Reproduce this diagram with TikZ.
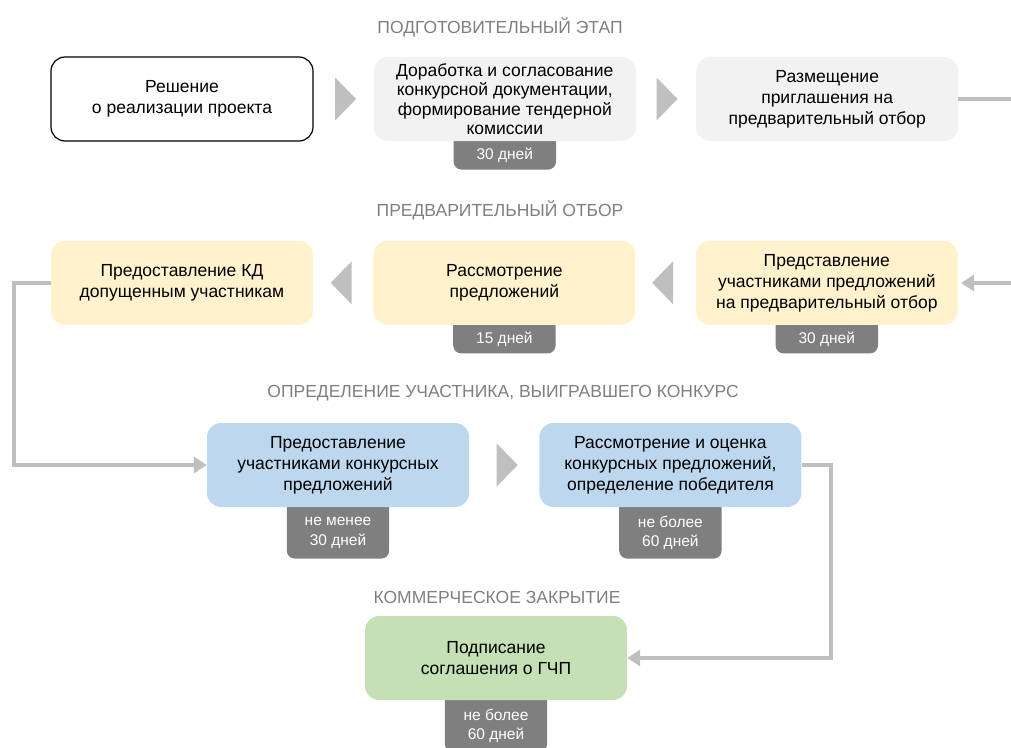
\documentclass[tikz,border=0pt]{standalone}
\usepackage{fontspec}
\setmainfont{Liberation Sans}
\usetikzlibrary{positioning,arrows.meta,calc,backgrounds}

\definecolor{stepgray}{HTML}{F2F2F2}
\definecolor{stepyellow}{HTML}{FFF2CC}
\definecolor{stepblue}{HTML}{BDD7EE}
\definecolor{stepgreen}{HTML}{C5E0B4}
\definecolor{tabgray}{HTML}{7F7F7F}
\definecolor{linegray}{HTML}{BFBFBF}

\tikzset{
  stage/.style={rectangle, rounded corners=14pt, minimum width=262pt, minimum height=84pt,
    align=center, inner xsep=4pt, inner ysep=0pt, font=\fontsize{17.5pt}{21pt}\selectfont},
  phase/.style={text=tabgray, inner sep=0pt, font=\fontsize{17.5pt}{20pt}\selectfont},
  term/.style={minimum width=102pt, minimum height=28pt, inner sep=0pt, align=center,
    text=white, font=\fontsize{15.5pt}{19.5pt}\selectfont},
  flow/.style={draw=linegray, line width=4pt},
  tip/.style={-{Triangle[length=13pt,width=16pt]}},
  chev/.style={fill=linegray}
}

% chevrons between steps
\newcommand{\chevr}[1]{\fill[chev] ($(#1)+(-10.5,-21.5)$) -- ++(21,21.5) -- ++(-21,21.5) -- cycle;}
\newcommand{\chevl}[1]{\fill[chev] ($(#1)+(10.5,-21.5)$) -- ++(-21,21.5) -- ++(21,21.5) -- cycle;}

\begin{document}
\begin{tikzpicture}[x=1pt, y=-1pt]
      \useasboundingbox (0,0) rectangle (1011,747);

      % Phase titles
      \node[phase] (p1) at (500,27)  {ПОДГОТОВИТЕЛЬНЫЙ ЭТАП};
      \node[phase] (p2) at (500,210) {ПРЕДВАРИТЕЛЬНЫЙ ОТБОР};
      \node[phase] (p3) at (503,393) {ОПРЕДЕЛЕНИЕ УЧАСТНИКА, ВЫИГРАВШЕГО КОНКУРС};
      \node[phase] (p4) at (497,597) {КОММЕРЧЕСКОЕ ЗАКРЫТИЕ};

      % Row 1
      \node[stage, draw=black, line width=1.2pt, fill=white] (b1) at (182,99) {Решение\\о реализации проекта};
      \node[stage, fill=stepgray, right=60pt of b1, font=\fontsize{17.5pt}{19.5pt}\selectfont] (b2)
        {Доработка и согласование\\конкурсной документации,\\формирование тендерной\\комиссии};
      \node[stage, fill=stepgray, right=60pt of b2] (b3) {Размещение\\приглашения на\\предварительный отбор};

      % Row 2
      \node[stage, fill=stepyellow, below=99pt of b1] (b4) {Предоставление КД\\допущенным участникам};
      \node[stage, fill=stepyellow, right=60pt of b4] (b5) {Рассмотрение\\предложений};
      \node[stage, fill=stepyellow, right=60pt of b5] (b6) {Представление\\участниками предложений\\на предварительный отбор};

      % Row 3
      \node[stage, fill=stepblue] (b7) at (338,465) {Предоставление\\участниками конкурсных\\предложений};
      \node[stage, fill=stepblue, right=70pt of b7] (b8) {Рассмотрение и оценка\\конкурсных предложений,\\определение победителя};

      % Row 4
      \node[stage, fill=stepgreen] (b9) at (496,658) {Подписание\\соглашения о ГЧП};

      % Duration tabs
      \node[term, below=0pt of b2] (t2) {30 дней};
      \node[term, below=0pt of b5] (t5) {15 дней};
      \node[term, below=0pt of b6] (t6) {30 дней};
      \node[term, minimum height=51pt, below=0pt of b7] (t7) {не менее\\30 дней};
      \node[term, minimum height=51pt, below=0pt of b8] (t8) {не более\\60 дней};
      \node[term, minimum height=51pt, below=0pt of b9] (t9) {не более\\60 дней};
      \begin{scope}[on background layer]
        \foreach \t in {t2,t5,t6,t7,t8,t9}
          \fill[tabgray, rounded corners=8pt] ([yshift=12pt]\t.north west) rectangle (\t.south east);
      \end{scope}

      % Chevrons
      \coordinate (m12) at ($(b1.east)!0.5!(b2.west)+(2,0)$);
      \coordinate (m23) at ($(b2.east)!0.5!(b3.west)+(1,0)$);
      \coordinate (m45) at ($(b4.east)!0.5!(b5.west)+(-2,0)$);
      \coordinate (m56) at ($(b5.east)!0.5!(b6.west)+(-3,0)$);
      \coordinate (m78) at ($(b7.east)!0.5!(b8.west)+(3,0)$);
      \chevr{m12}
      \chevr{m23}
      \chevl{m45}
      \chevl{m56}
      \chevr{m78}

      % Connectors
      \coordinate (e1) at (1011,98);
      \coordinate (e2) at (1011,283);
      \draw[flow] (b3.east) -- (b3.east -| e1);
      \draw[flow, tip, shorten >=3pt] (e2) -- (e2 -| b6.east);
      \draw[flow, tip] (b4.west) -- ++(-37,0) |- (b7.west);
      \draw[flow, tip] (b8.east) -- ++(29,0) |- (b9.east);
\end{tikzpicture}
\end{document}
